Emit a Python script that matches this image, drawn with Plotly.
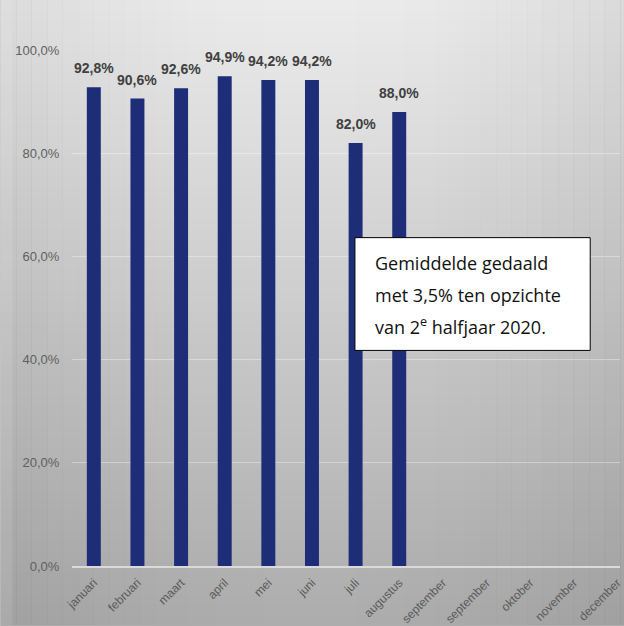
import plotly.graph_objects as go

months = ["januari", "februari", "maart", "april", "mei", "juni", "juli",
          "augustus", "september", "september", "oktober", "november", "december"]
values = [92.8, 90.6, 92.6, 94.9, 94.2, 94.2, 82.0, 88.0]
y_ticks = [0, 20, 40, 60, 80, 100]
y_tick_text = [("%.1f%%" % v).replace(".", ",") for v in y_ticks]
note_lines = ["Gemiddelde gedaald", "met 3,5% ten opzichte", "van 2<sup>e</sup> halfjaar 2020."]

W, H = 624, 626
ML, MR, MT, MB = 72, 0, 50, 59
pw, ph = W - ML - MR, H - MT - MB

fig = go.Figure()
xs = list(range(len(values)))
fig.add_trace(go.Bar(
    x=xs, y=values,
    width=0.32,
    marker=dict(color="#1e2d78", line=dict(width=0)),
    hoverinfo="skip",
))

annotations = []
for xv, v in zip(xs, values):
    annotations.append(dict(x=xv, y=v, xref="x", yref="y", yanchor="bottom", yshift=9,
                            showarrow=False, text=("%.1f%%" % v).replace(".", ","),
                            font=dict(family="Liberation Sans, Arial", size=14,
                                      color="#404040", weight="bold")))

# gradient background (styling)
shapes = []
n = 60
top_c, bot_c = (236, 236, 236), (172, 172, 172)
y_top = 1 + MT / ph
y_bot = -MB / ph
x_left = -ML / pw
x_right = 1.06
for i in range(n):
    t = (i + 0.5) / n
    c = tuple(int(round(top_c[k] + (bot_c[k] - top_c[k]) * t)) for k in range(3))
    y1 = y_top - (y_top - y_bot) * i / n
    y0 = y_top - (y_top - y_bot) * (i + 1) / n
    shapes.append(dict(type="rect", xref="paper", yref="paper",
                       x0=x_left, x1=x_right, y0=y0 - 0.002, y1=y1,
                       fillcolor="rgb(%d,%d,%d)" % c, line=dict(width=0), layer="below"))
# horizontal vignette (darker edges)
m = 40
for j in range(m + 3):
    t = min((j + 0.5) / m, 1.0)
    d = abs(t - 0.5) * 2
    a = 0.07 * d ** 2
    x0 = x_left + (1 - x_left) * j / m
    x1 = x_left + (1 - x_left) * (j + 1) / m
    shapes.append(dict(type="rect", xref="paper", yref="paper",
                       x0=x0, x1=x1 + 0.001, y0=y_bot, y1=y_top,
                       fillcolor="rgba(0,0,0,%.4f)" % a, line=dict(width=0), layer="below"))
# thin side strip at left edge
shapes.append(dict(type="rect", xref="paper", yref="paper",
                   x0=x_left, x1=x_left + 12 / pw, y0=y_bot, y1=y_top,
                   fillcolor="rgba(255,255,255,0.10)", line=dict(width=0), layer="below"))

# note box
bx0, bx1 = (357 - ML) / pw, (594 - ML) / pw
by1, by0 = (MT + ph - 238) / ph, (MT + ph - 351) / ph
shapes.append(dict(type="rect", xref="paper", yref="paper", x0=bx0, x1=bx1, y0=by0, y1=by1,
                   fillcolor="white", line=dict(color="black", width=1), layer="above"))

for i, line in enumerate(note_lines):
    ypx = 263 + 32 * i
    annotations.append(dict(xref="paper", yref="paper",
                            x=(375 - ML) / pw, y=(MT + ph - ypx) / ph,
                            xanchor="left", yanchor="middle", showarrow=False,
                            text=line, align="left",
                            font=dict(family="Open Sans, Noto Sans", size=18, color="#111111")))

fig.update_layout(
    width=W, height=H,
    margin=dict(l=ML, r=MR, t=MT, b=MB),
    paper_bgcolor="#c8c8c8",
    plot_bgcolor="rgba(0,0,0,0)",
    separators=",.",
    showlegend=False,
    shapes=shapes,
    annotations=annotations,
)
fig.update_xaxes(
    range=[-0.5, 12.06],
    tickmode="array", tickvals=list(range(len(months))), ticktext=months,
    tickangle=-45, ticklabeloverflow="allow",
    tickfont=dict(family="Liberation Sans, Arial", size=12, color="#5a5a5a"),
    showgrid=False, zeroline=False,
    showline=True, linecolor="#dadada", linewidth=2,
    ticks="outside", ticklen=3, tickcolor="rgba(0,0,0,0)",
)
fig.update_yaxes(
    range=[0, 100],
    tickmode="array", tickvals=y_ticks, ticktext=y_tick_text,
    tickfont=dict(family="Liberation Sans, Arial", size=13, color="#5f5f5f"),
    showgrid=True, gridcolor="rgba(255,255,255,0.35)", gridwidth=1,
    zeroline=False, showline=False,
    ticks="outside", ticklen=9, tickcolor="rgba(0,0,0,0)",
)

fig.write_html("out.html", config={"displayModeBar": False},
               post_script="document.documentElement.style.overflow='hidden';"
                           "document.body.style.margin='0';document.body.style.overflow='hidden';")
